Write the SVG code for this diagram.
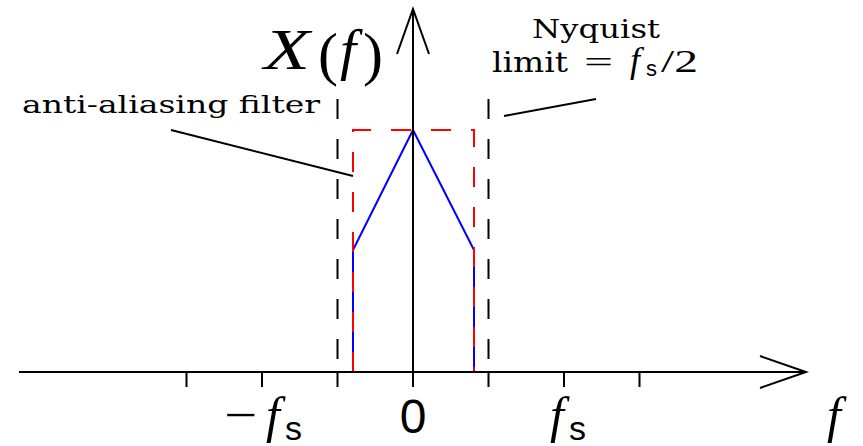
<svg xmlns="http://www.w3.org/2000/svg" width="863" height="446" viewBox="0 0 863 446">
  <style>
    .ax { stroke: #000; stroke-width: 2; fill: none; }
    .bd { stroke: #000; stroke-width: 2; fill: none; stroke-dasharray: 20 20; }
    .rd { stroke: #ff0000; stroke-width: 2; fill: none; stroke-dasharray: 20 20; }
    .bl { stroke: #0000ff; stroke-width: 2; fill: none; }
    .rm { font-family: "DejaVu Serif", "Liberation Serif", serif; fill: #000; }
    .it { font-family: "Liberation Serif", serif; font-style: italic; fill: #000; }
    .up { font-family: "Liberation Serif", serif; fill: #000; }
    .sf { font-family: "Liberation Sans", sans-serif; fill: #000; }
  </style>
  <rect width="863" height="446" fill="#fff"/>
  <g id="signal">
    <path class="bl" d="M353,372 V250 L413,130 L474,250 V372"/>
  </g>
  <g id="filter">
    <path class="rd" d="M353,372 V130 H474 V372"/>
  </g>
  <g id="nyquist-bounds">
    <path class="bd" d="M337.5,99 V372"/>
    <path class="bd" d="M488.5,99 V372"/>
  </g>
  <g id="axes">
    <path class="ax" d="M19,372 H806"/>
    <path class="ax" d="M760,356 L806,372 L760,388"/>
    <path class="ax" d="M413,372 V9"/>
    <path class="ax" d="M397,54 L413,9 L429,54"/>
    <path class="ax" d="M186.5,372 V387 M262,372 V387 M337.5,372 V387 M413,372 V387 M488.5,372 V387 M564,372 V387 M639.5,372 V387"/>
  </g>
  <g id="connectors">
    <path class="ax" d="M171,130 L353,176"/>
    <path class="ax" d="M504,116 L596,99"/>
  </g>
  <g id="ylabel">
    <text class="it" x="264" y="69" font-size="56" textLength="46" lengthAdjust="spacingAndGlyphs">X</text>
    <text class="up" x="318" y="74" font-size="60">(</text>
    <text class="it" x="340" y="69" font-size="58">f</text>
    <text class="up" x="363" y="74" font-size="60">)</text>
  </g>
  <g id="label-nyquist">
    <text class="rm" x="596" y="38" font-size="26" text-anchor="middle" textLength="128" lengthAdjust="spacingAndGlyphs">Nyquist</text>
    <text class="rm" x="492" y="72" font-size="28" textLength="76" lengthAdjust="spacingAndGlyphs">limit</text>
    <text class="up" x="584" y="72" font-size="30" textLength="29" lengthAdjust="spacingAndGlyphs">=</text>
    <text class="it" x="630" y="72" font-size="36">f</text>
    <text class="sf" x="646" y="76" font-size="22">s</text>
    <text class="up" x="661" y="72" font-size="32" textLength="37" lengthAdjust="spacingAndGlyphs">/2</text>
  </g>
  <g id="label-filter">
    <text class="rm" x="22" y="113" font-size="25" textLength="298" lengthAdjust="spacingAndGlyphs">anti-aliasing filter</text>
  </g>
  <g id="xlabels">
    <text class="up" x="224" y="431" font-size="48" textLength="33" lengthAdjust="spacingAndGlyphs">−</text>
    <text class="it" x="266" y="432" font-size="50">f</text>
    <text class="sf" x="285" y="440" font-size="34">s</text>
    <text class="sf" x="413" y="433" font-size="48" text-anchor="middle">0</text>
    <text class="it" x="550" y="432" font-size="50">f</text>
    <text class="sf" x="569" y="440" font-size="34">s</text>
    <text class="it" x="827" y="432" font-size="50">f</text>
  </g>
</svg>
